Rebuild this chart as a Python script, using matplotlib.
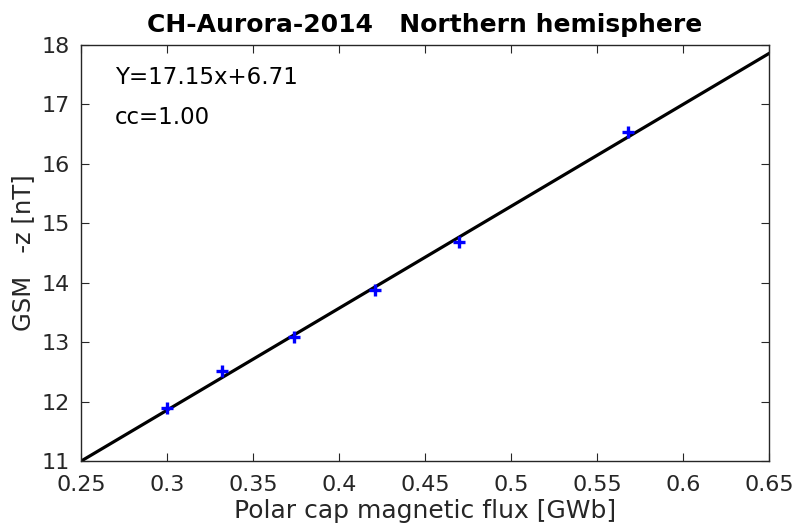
import numpy as np
import matplotlib
matplotlib.use('Agg')
from matplotlib import pyplot as plt

# data
flux = [0.300, 0.332, 0.374, 0.421, 0.470, 0.568]
gsm_z = [11.89, 12.51, 13.08, 13.88, 14.68, 16.54]
slope, intercept = 17.15, 6.71
cc = 1.00
x_ticks = [0.25, 0.3, 0.35, 0.4, 0.45, 0.5, 0.55, 0.6, 0.65]
y_ticks = [11, 12, 13, 14, 15, 16, 17, 18]

plt.rcParams['font.family'] = ['DejaVu Sans']
gray = '#262626'

fig = plt.figure(figsize=(7.96, 5.28), dpi=100)
ax = fig.add_axes([0.1018, 0.1269, 0.8643, 0.7879])

xfit = np.array([x_ticks[0], x_ticks[-1]])
ax.plot(xfit, slope * xfit + intercept, color='k', lw=2.3, zorder=2)
ax.plot(flux, gsm_z, '+', color='b', ms=9, mew=2.4, zorder=3)

ax.set_xlim(x_ticks[0], x_ticks[-1])
ax.set_ylim(y_ticks[0], y_ticks[-1])
ax.set_xticks(x_ticks)
ax.set_xticklabels([('%g' % v) for v in x_ticks])
ax.set_yticks(y_ticks)
ax.tick_params(direction='in', top=True, right=True, length=6, width=0.8,
               colors=gray, labelsize=16)
ax.tick_params(axis='x', pad=10)
ax.tick_params(axis='y', pad=8)
for s in ax.spines.values():
    s.set_color(gray)
    s.set_linewidth(1.0)

ax.text(0.2695, 17.46, 'Y=%.2fx+%.2f' % (slope, intercept), fontsize=16.5,
        color='k', va='center')
ax.text(0.2695, 16.78, 'cc=%.2f' % cc, fontsize=16.5, color='k', va='center')

ax.set_xlabel('Polar cap magnetic flux [GWb]', fontsize=18, color=gray, labelpad=3)
ax.set_ylabel('GSM   -z [nT]', fontsize=17.5, color=gray, labelpad=5)
ax.set_title('CH-Aurora-2014   Northern hemisphere', fontsize=18,
             fontweight='bold', color='k', pad=9)

fig.savefig('out.png', dpi=100)
